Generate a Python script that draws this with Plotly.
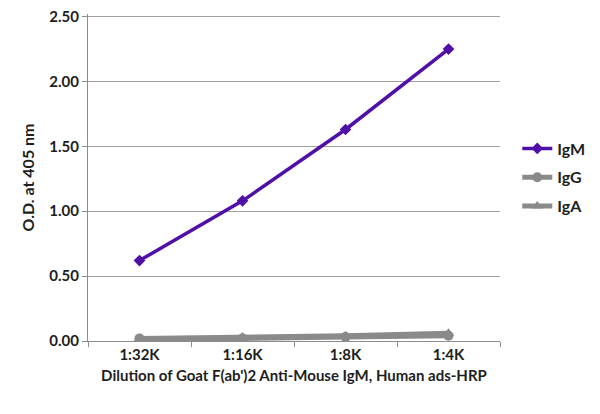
import plotly.graph_objects as go

categories = ["1:32K", "1:16K", "1:8K", "1:4K"]
igm = [0.62, 1.08, 1.63, 2.25]
igg = [0.02, 0.02, 0.03, 0.04]
iga = [0.02, 0.03, 0.04, 0.06]
y_min, y_max, y_step = 0.0, 2.5, 0.5

purple = "#5010A8"
gray = "#8A8A8A"
font = "Lato"
txt = "#1E1E1E"

fig = go.Figure()
fig.add_trace(go.Scatter(x=categories, y=igm, name="IgM", mode="lines+markers",
                         legendgroup="m",
                         line=dict(color=purple, width=3.5),
                         marker=dict(symbol="diamond", size=9, color=purple)))
fig.add_trace(go.Scatter(x=categories, y=igg, name="IgG", mode="lines+markers",
                         legendgroup="g",
                         line=dict(color=gray, width=5),
                         marker=dict(symbol="circle", size=10, color=gray)))
fig.add_trace(go.Scatter(x=categories, y=iga, name="IgA", mode="lines+markers",
                         legendgroup="a",
                         line=dict(color=gray, width=5),
                         marker=dict(symbol="triangle-up", size=10, color=gray)))

fig.update_layout(
    width=600, height=414,
    margin=dict(l=80, r=108, t=6, b=81, autoexpand=False),
    paper_bgcolor="white", plot_bgcolor="white",
    font=dict(family=font, size=15, color=txt, weight="bold"),
    legend=dict(x=1.042, y=0.5, xanchor="left", yanchor="middle",
                font=dict(family=font, size=16, color=txt, weight="bold"),
                tracegroupgap=5, itemwidth=30),
    showlegend=True,
)
fig.update_xaxes(
    type="category", range=[-0.5, 3.5], automargin=False,
    showline=True, linecolor="#8C8C8C", linewidth=1,
    ticks="outside", tickson="boundaries", ticklen=5, tickcolor="#8C8C8C",
    showgrid=False,
    tickfont=dict(family=font, size=15, color=txt, weight="bold"),
    title=dict(text="Dilution of Goat F(ab')2 Anti-Mouse IgM, Human ads-HRP",
               font=dict(family=font, size=15, color=txt, weight="bold"),
               standoff=8),
)
fig.update_yaxes(
    range=[y_min, y_max + 0.02], automargin=False,
    tickmode="linear", tick0=y_min, dtick=y_step, tickformat=".2f",
    ticklabeloverflow="allow",
    showline=True, linecolor="#8C8C8C", linewidth=1,
    ticks="outside", ticklen=5, tickcolor="#8C8C8C",
    showgrid=True, gridcolor="#A0A0A0", gridwidth=1,
    zeroline=False,
    tickfont=dict(family=font, size=15, color=txt, weight="bold"),
    title=dict(text="O.D. at 405 nm",
               font=dict(family=font, size=16, color=txt, weight="bold"),
               standoff=10),
)

fig.write_html("out.html")
